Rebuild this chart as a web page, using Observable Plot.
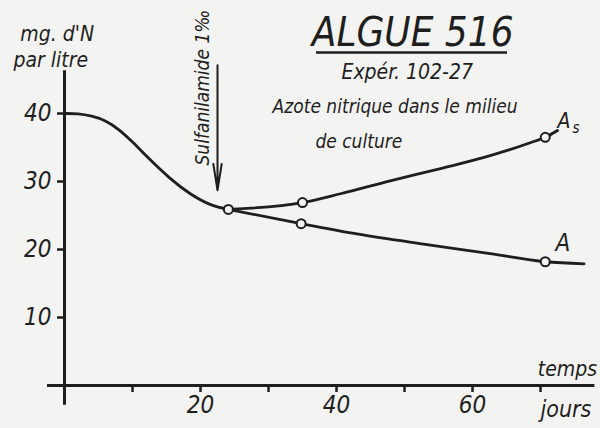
<!DOCTYPE html>
<html><head><meta charset="utf-8">
<script src="https://cdn.jsdelivr.net/npm/d3@7"></script>
<script src="https://cdn.jsdelivr.net/npm/@observablehq/plot@0.6"></script>
<style>
html,body{margin:0;padding:0;background:#f3f3f1;}
#chart svg{display:block;}
</style></head><body><div id="chart"></div>
<script>
// --- data (days, mg N / litre) ---
const commonDays = [0, 2, 4, 6, 8, 10, 12.5, 15.5, 18.5, 21.5, 24.1];
const commonVals = [40, 39.95, 39.6, 38.9, 37.6, 35.8, 33.3, 30.5, 28.2, 26.6, 25.9];
const asDays = [24.1, 35, 40.6, 47.9, 55.3, 62.6, 68.5, 70.7, 72.5];
const asVals = [25.9, 26.9, 28.2, 30.1, 31.9, 33.8, 35.7, 36.5, 37.5];
const aDays = [24.1, 34.8, 43, 52.8, 62.6, 70.7, 76.4];
const aVals = [25.9, 23.8, 22.3, 20.8, 19.4, 18.2, 17.9];
const markerDays = [24.1, 35, 70.7, 34.8, 70.7];
const markerVals = [25.9, 26.9, 36.5, 23.8, 18.2];
const xTicks = [10, 20, 30, 40, 50, 60, 70];
const yTicks = [10, 20, 30, 40];
const sulfaDay = 22.5;

const FONT = '"Liberation Sans Narrow","DejaVu Sans Condensed","Liberation Sans",sans-serif';
const INK = "#1e1e1e";
const PAPER = "#f3f3f1";

const toRows = (xs, ys, s) => xs.map((x, i) => ({x, y: ys[i], s}));
const commonRows = toRows(commonDays, commonVals, "common");
const branchRows = [...toRows(asDays, asVals, "As"), ...toRows(aDays, aVals, "A")];
const markers = toRows(markerDays, markerVals, "m");

const label = (t, x, y, size, extra = {}) =>
  Plot.text([t], {x, y, text: d => d, textAnchor: "start", lineAnchor: "bottom", fontSize: size, fill: INK, ...extra});

const plot = Plot.plot({
  width: 600, height: 428,
  marginLeft: 64, marginRight: 5.6, marginTop: 72.2, marginBottom: 43,
  x: {domain: [0, 78]},
  y: {domain: [0, 46]},
  style: {fontFamily: FONT, fontStyle: "italic", background: "transparent", color: INK, overflow: "visible"},
  marks: [
    Plot.ruleX([0], {y1: -2.9, y2: 46.3, stroke: INK, strokeWidth: 3}),
    Plot.ruleY([0], {x1: -2.5, x2: 78, stroke: INK, strokeWidth: 3}),
    Plot.axisY({ticks: yTicks, tickSize: 7, tickPadding: 6, fontSize: 24, strokeWidth: 2.5, label: null}),
    Plot.axisX({ticks: xTicks, tickFormat: d => d % 20 ? "" : d, tickSize: 7, tickPadding: 3, fontSize: 24, strokeWidth: 2.5, label: null}),
    Plot.line(commonRows, {x: "x", y: "y", curve: "natural", stroke: INK, strokeWidth: 2.8}),
    Plot.line(branchRows, {x: "x", y: "y", z: "s", curve: "monotone-x", stroke: INK, strokeWidth: 2.8}),
    Plot.dot(markers, {x: "x", y: "y", r: 4.5, fill: PAPER, stroke: INK, strokeWidth: 2}),
    Plot.arrow([sulfaDay], {x1: d => d, x2: d => d, y1: 47.1, y2: 28.7, stroke: INK, strokeWidth: 2, headLength: 20, headAngle: 18}),
    label("Sulfanilamide 1‰", 21.2, 32.35, 19, {rotate: -90}),
    // titles
    Plot.text(["ALGUE 516"], {x: 51.2, y: 50.0, text: d => d, textAnchor: "middle", lineAnchor: "bottom", fontSize: 40, fill: INK}),
    Plot.ruleY([48.97], {x1: 37.06, x2: 65.15, stroke: INK, strokeWidth: 2.5}),
    Plot.text(["Expér. 102-27"], {x: 50.4, y: 45.1, text: d => d, textAnchor: "middle", lineAnchor: "bottom", fontSize: 21, fill: INK}),
    label("Azote nitrique dans le milieu", 30.6, 40.1, 19),
    label("de culture", 36.9, 35.0, 19),
    // axis titles
    label("mg. d'N", -6.5, 50.7, 21),
    label("par litre", -7.5, 46.8, 21),
    label("temps", 69.6, 1.47, 21),
    label("jours", 70.0, -4.7, 23),
    // series labels
    label("A", 72.5, 37.9, 21),
    label("s", 74.7, 37.2, 15),
    label("A", 72.2, 19.85, 24)
  ]
});
document.getElementById("chart").appendChild(plot);
</script></body></html>
